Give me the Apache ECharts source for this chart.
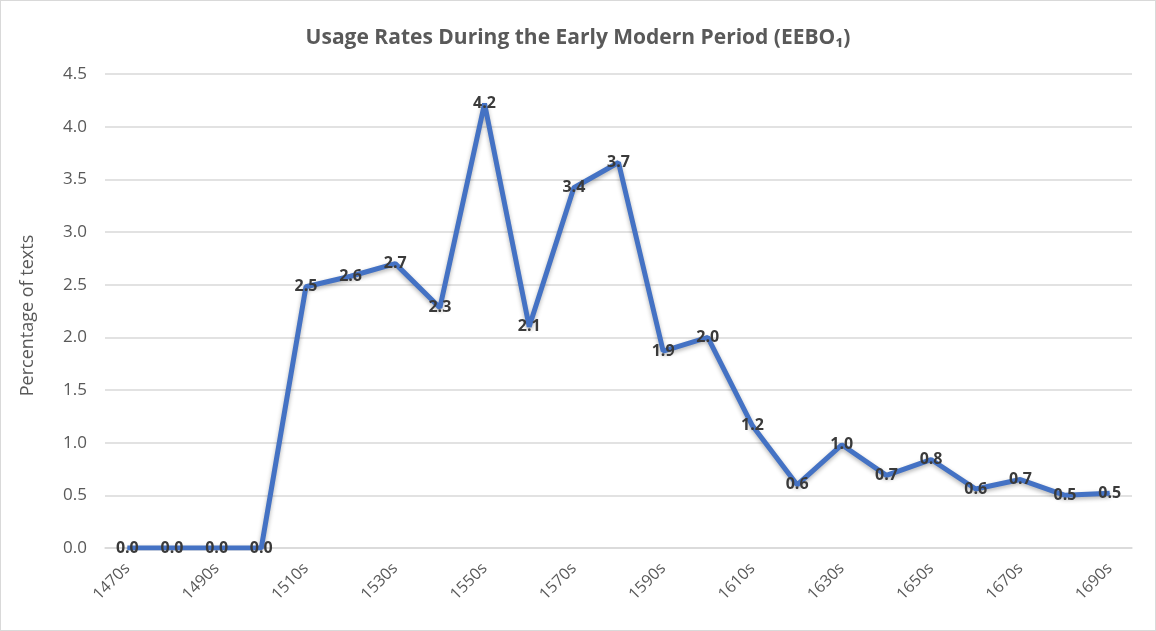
<!DOCTYPE html>
<html>
<head>
<meta charset="utf-8">
<script src="https://cdn.jsdelivr.net/npm/echarts@6/dist/echarts.min.js"></script>
<style>
html,body{margin:0;padding:0;background:#fff;}
#chart{width:1154px;height:629px;border:1px solid #d9d9d9;}
</style>
</head>
<body>
<div id="chart"></div>
<script>
const categories = ['1470s','1480s','1490s','1500s','1510s','1520s','1530s','1540s','1550s','1560s','1570s','1580s','1590s','1600s','1610s','1620s','1630s','1640s','1650s','1660s','1670s','1680s','1690s'];
const usageRates = [0.0,0.0,0.0,0.0,2.48,2.58,2.70,2.28,4.22,2.10,3.42,3.66,1.87,2.00,1.16,0.60,0.98,0.69,0.84,0.56,0.65,0.50,0.52];
const yTicks = { min: 0, max: 4.5, interval: 0.5 };
const titleText = 'Usage Rates During the Early Modern Period (EEBO\u2081)';
const yAxisTitle = 'Percentage of texts';

const chart = echarts.init(document.getElementById('chart'));
chart.setOption({
  animation: false,
  title: {
    text: titleText,
    left: 'center',
    top: 22,
    textStyle: { fontFamily: 'Open Sans', fontWeight: 'bold', fontSize: 21, color: '#595959' }
  },
  graphic: [{
    type: 'text',
    left: 18,
    top: 'middle',
    rotation: Math.PI / 2,
    style: {
      text: yAxisTitle,
      fill: '#595959',
      font: '18px "Open Sans"'
    },
    x: 0, y: -20
  }],
  grid: { left: 104, right: 23, top: 73, bottom: 82 },
  xAxis: {
    type: 'category',
    data: categories,
    boundaryGap: true,
    axisLine: { lineStyle: { color: '#d9d9d9', width: 1.5 } },
    axisTick: { show: false },
    axisLabel: { interval: 1, rotate: 45, color: '#595959', fontSize: 16, fontFamily: 'Open Sans', margin: 18 }
  },
  yAxis: {
    type: 'value',
    min: yTicks.min, max: yTicks.max, interval: yTicks.interval,
    axisLine: { show: false },
    axisTick: { show: false },
    axisLabel: { color: '#595959', fontSize: 17, fontFamily: 'Open Sans', margin: 18, formatter: v => v.toFixed(1) },
    splitLine: { lineStyle: { color: '#d9d9d9', width: 1.5 } }
  },
  series: [{
    type: 'line',
    data: usageRates,
    symbol: 'circle',
    symbolSize: 1,
    showSymbol: true,
    lineStyle: { color: '#4472C4', width: 5, shadowColor: 'rgba(0,0,0,0.3)', shadowBlur: 4, shadowOffsetY: 2 },
    itemStyle: { color: '#4472C4' },
    label: {
      show: true,
      position: 'inside',
      color: '#3a3a3a',
      fontWeight: 'bold',
      fontSize: 16,
      fontFamily: 'Open Sans',
      formatter: p => p.value.toFixed(1)
    },
    labelLayout: { hideOverlap: false }
  }]
});
</script>
</body>
</html>
